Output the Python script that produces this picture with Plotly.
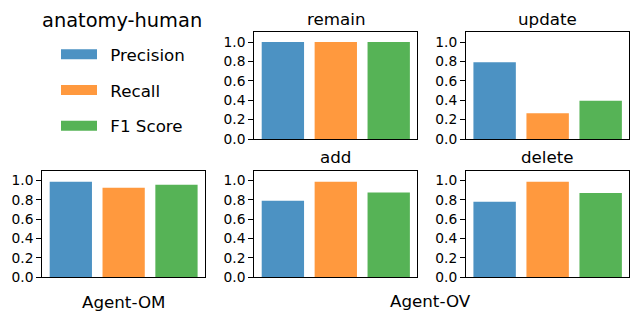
import plotly.graph_objects as go

# ------------------------------------------------------------
# Data
# ------------------------------------------------------------
metrics = ["Precision", "Recall", "F1 Score"]
colors = ["#1f77b4", "#ff7f0e", "#2ca02c"]

agent_om = [0.985, 0.924, 0.954]
remain = [1.0, 1.0, 1.0]
update = [0.79, 0.265, 0.395]
add = [0.79, 0.986, 0.875]
delete = [0.779, 0.986, 0.870]

W, H = 639, 321
FONT = "DejaVu Sans"

# panel title, values, x extent (px), y extent (px from top)
panels = [
    ("remain", remain, (254.3, 417.3), (32.3, 139.0)),
    ("update", update, (466.0, 629.3), (32.3, 139.0)),
    ("", agent_om, (42.3, 205.0), (170.7, 277.0)),
    ("add", add, (254.3, 417.3), (170.7, 277.0)),
    ("delete", delete, (466.0, 629.3), (170.7, 277.0)),
]

fig = go.Figure()
annotations = []
axes = {}

for i, (title, vals, (x0, x1), (ytop, ybot)) in enumerate(panels, start=1):
    sfx = "" if i == 1 else str(i)
    fig.add_trace(
        go.Bar(
            x=[0, 1, 2],
            y=vals,
            width=0.8,
            marker=dict(color=colors, opacity=0.8, line=dict(width=0)),
            showlegend=False,
            xaxis="x" + sfx,
            yaxis="y" + sfx,
        )
    )
    axes["xaxis" + sfx] = dict(
        domain=[x0 / W, x1 / W], range=[-0.54, 2.54], automargin=False,
        showline=True, mirror=True, linecolor="black", linewidth=1,
        showgrid=False, zeroline=False,
        showticklabels=False, ticks="", anchor="y" + sfx,
    )
    axes["yaxis" + sfx] = dict(
        domain=[1 - ybot / H, 1 - ytop / H], range=[0, 1.1], automargin=False,
        showline=True, mirror=True, linecolor="black", linewidth=1,
        showgrid=False, zeroline=False,
        tickvals=[0, 0.2, 0.4, 0.6, 0.8, 1.0], tickformat=".1f",
        ticks="outside", ticklen=5, tickcolor="black", tickwidth=1,
        tickfont=dict(size=13.8, color="black"), anchor="x" + sfx,
    )
    if title:
        annotations.append(dict(
            text=title, x=(x0 + x1) / 2 / W, y=1 - (ytop - 13.5) / H,
            xref="paper", yref="paper", showarrow=False,
            xanchor="center", yanchor="middle",
            font=dict(size=16.7, color="black"),
        ))

# legend entries (line swatches give a wide rectangle like matplotlib)
for name, c in zip(metrics, colors):
    fig.add_trace(
        go.Scatter(
            x=[None], y=[None], mode="lines", name="\u2002" + name,
            line=dict(color=c, width=13), opacity=0.8, legendgroup=name,
        )
    )

annotations += [
    dict(text="anatomy-human", x=122 / W, y=1 - 20 / H, xref="paper", yref="paper",
         showarrow=False, xanchor="center", yanchor="middle",
         font=dict(size=19.4, color="black")),
    dict(text="Agent-OM", x=123 / W, y=1 - 302 / H, xref="paper", yref="paper",
         showarrow=False, xanchor="center", yanchor="middle",
         font=dict(size=16.7, color="black")),
    dict(text="Agent-OV", x=430 / W, y=1 - 301 / H, xref="paper", yref="paper",
         showarrow=False, xanchor="center", yanchor="middle",
         font=dict(size=16.7, color="black")),
]

fig.update_layout(
    width=W, height=H,
    margin=dict(l=0, r=0, t=0, b=0, autoexpand=False),
    paper_bgcolor="white", plot_bgcolor="white",
    font=dict(family=FONT, color="black"),
    annotations=annotations,
    showlegend=True,
    legend=dict(
        x=56 / W, y=1 - 37 / H, xanchor="left", yanchor="top",
        font=dict(size=16.7, color="black"),
        traceorder="grouped", tracegroupgap=11, itemwidth=36,
        bgcolor="rgba(0,0,0,0)",
    ),
    **axes,
)

fig.write_html(
    "out.html",
    config={"displayModeBar": False},
    post_script="document.body.style.margin='0';",
)
